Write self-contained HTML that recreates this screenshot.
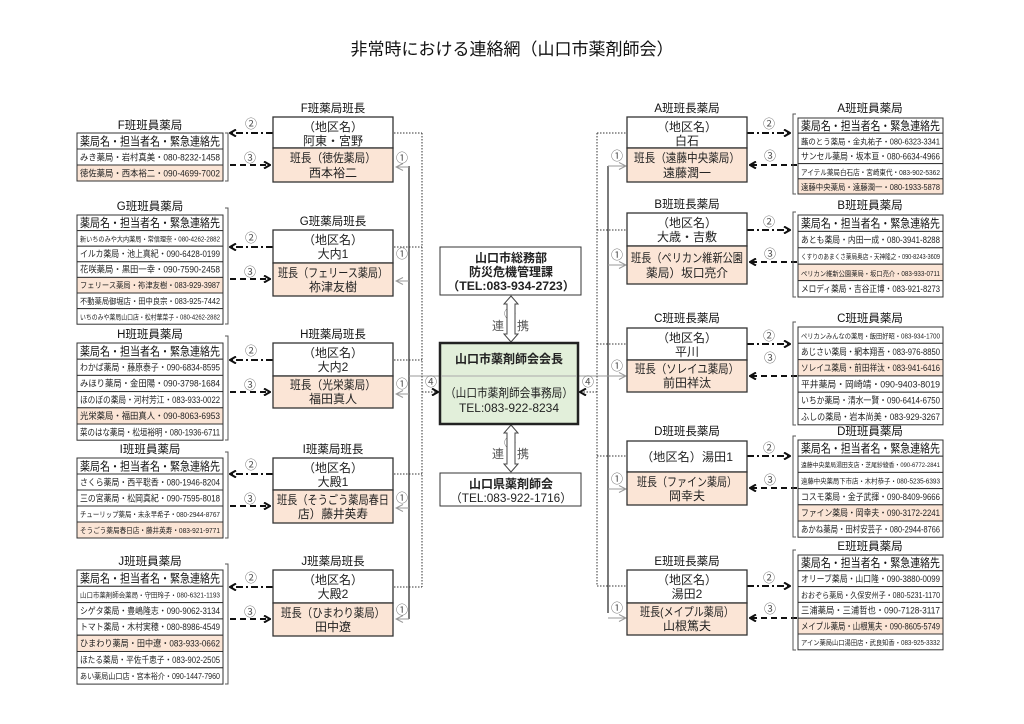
<!DOCTYPE html>
<html><head><meta charset="utf-8"><style>
html,body{margin:0;padding:0;background:#fff;}
svg{display:block;font-family:"Liberation Sans","Noto Sans CJK JP",sans-serif;}
.t{font-size:12px;fill:#222;text-anchor:middle}
.h{font-size:12px;fill:#111;text-anchor:middle}
.r{font-size:9px;fill:#222}
.lb{font-size:11.5px;fill:#111;text-anchor:middle}
.c{font-size:12px;fill:#555;text-anchor:middle}
</style></head><body>
<svg width="1024" height="724" viewBox="0 0 1024 724" xmlns="http://www.w3.org/2000/svg">
<defs>
<marker id="ab" markerWidth="8" markerHeight="8" refX="7" refY="4" orient="auto" markerUnits="userSpaceOnUse"><path d="M1,0.5 L7,4 L1,7.5" fill="none" stroke="#111" stroke-width="2"/></marker>
<marker id="ag" markerWidth="9" markerHeight="8" refX="8" refY="4" orient="auto" markerUnits="userSpaceOnUse"><path d="M1,0.5 L8,4 L1,7.5" fill="none" stroke="#999" stroke-width="1"/></marker>
</defs>
<text x="512" y="55" style="font-size:17px;fill:#111;text-anchor:middle">非常時における連絡網（山口市薬剤師会）</text>

<g fill="none">
<line x1="409" y1="166" x2="409" y2="619" stroke="#333" stroke-width="1.3"/>
<line x1="409" y1="376" x2="440" y2="376" stroke="#999"/>
<line x1="422" y1="133" x2="422" y2="587" stroke="#333" stroke-dasharray="1.5,1.5"/>
<g stroke="#999" marker-end="url(#ag)">
<line x1="409" y1="167" x2="396" y2="167"/><line x1="409" y1="281" x2="396" y2="281"/><line x1="409" y1="394" x2="396" y2="394"/><line x1="409" y1="508" x2="396" y2="508"/><line x1="409" y1="619" x2="396" y2="619"/>
</g>
<g stroke="#333" stroke-dasharray="1.5,1.5">
<line x1="394" y1="133" x2="422" y2="133"/><line x1="394" y1="247" x2="422" y2="247"/><line x1="394" y1="360" x2="422" y2="360"/><line x1="394" y1="474" x2="422" y2="474"/><line x1="394" y1="587" x2="422" y2="587"/>
<line x1="422" y1="392" x2="438" y2="392" marker-end="url(#ab)"/>
</g>
<line x1="608" y1="166" x2="608" y2="613" stroke="#333" stroke-width="1.3"/>
<line x1="578" y1="376" x2="608" y2="376" stroke="#999"/>
<line x1="597" y1="133" x2="597" y2="586" stroke="#333" stroke-dasharray="1.5,1.5"/>
<g stroke="#999" marker-end="url(#ag)">
<line x1="608" y1="166" x2="626" y2="166"/><line x1="608" y1="265" x2="626" y2="265"/><line x1="608" y1="376" x2="626" y2="376"/><line x1="608" y1="489" x2="626" y2="489"/><line x1="608" y1="618" x2="626" y2="618"/>
</g>
<g stroke="#333" stroke-dasharray="1.5,1.5">
<line x1="597" y1="133" x2="627" y2="133"/><line x1="597" y1="230" x2="627" y2="230"/><line x1="597" y1="344" x2="627" y2="344"/><line x1="597" y1="456" x2="627" y2="456"/><line x1="597" y1="586" x2="627" y2="586"/>
<line x1="597" y1="392" x2="580" y2="392" marker-end="url(#ab)"/>
</g>
<g stroke="#111" stroke-width="2">
<g stroke-dasharray="7,3,2,3" marker-end="url(#ab)">
<line x1="273" y1="133" x2="230" y2="133"/><line x1="273" y1="247" x2="230" y2="247"/><line x1="273" y1="360" x2="230" y2="360"/><line x1="273" y1="474" x2="230" y2="474"/><line x1="273" y1="587" x2="230" y2="587"/>
<line x1="747" y1="133" x2="790" y2="133"/><line x1="747" y1="230" x2="790" y2="230"/><line x1="747" y1="344" x2="790" y2="344"/><line x1="747" y1="456" x2="790" y2="456"/><line x1="747" y1="586" x2="790" y2="586"/>
</g>
<g stroke-dasharray="6,4" marker-end="url(#ab)">
<line x1="230" y1="165" x2="270" y2="165"/><line x1="230" y1="279" x2="270" y2="279"/><line x1="230" y1="392" x2="270" y2="392"/><line x1="230" y1="506" x2="270" y2="506"/><line x1="230" y1="619" x2="270" y2="619"/>
<line x1="797" y1="165" x2="750" y2="165"/><line x1="797" y1="262" x2="750" y2="262"/><line x1="797" y1="376" x2="750" y2="376"/><line x1="797" y1="488" x2="750" y2="488"/><line x1="797" y1="618" x2="750" y2="618"/>
</g>
</g>
<g stroke="#555" stroke-width="1">
<path d="M225,133 h3 v48 h-3"/><path d="M225,208 h3 v116 h-3"/><path d="M225,336 h3 v104 h-3"/><path d="M225,452 h3 v86 h-3"/><path d="M225,564 h3 v120 h-3"/>
<path d="M796,114 h-3 v80 h3"/><path d="M796,212 h-3 v85 h3"/><path d="M796,322 h-3 v103 h3"/><path d="M796,436 h-3 v101 h3"/><path d="M796,550 h-3 v100 h3"/>
</g>
</g>
<g>
<text x="251" y="128" class="c">②</text><text x="251" y="242" class="c">②</text><text x="251" y="355" class="c">②</text><text x="251" y="469" class="c">②</text><text x="251" y="582" class="c">②</text>
<text x="250" y="162" class="c">③</text><text x="250" y="276" class="c">③</text><text x="250" y="389" class="c">③</text><text x="250" y="503" class="c">③</text><text x="250" y="616" class="c">③</text>
<text x="402" y="162" class="c">①</text><text x="402" y="258" class="c">①</text><text x="402" y="388" class="c">①</text><text x="402" y="502" class="c">①</text><text x="402" y="614" class="c">①</text>
<text x="769" y="128" class="c">②</text><text x="769" y="226" class="c">②</text><text x="769" y="340" class="c">②</text><text x="769" y="452" class="c">②</text><text x="769" y="582" class="c">②</text>
<text x="770" y="160" class="c">③</text><text x="770" y="258" class="c">③</text><text x="770" y="362" class="c">③</text><text x="770" y="484" class="c">③</text><text x="770" y="613" class="c">③</text>
<text x="617" y="160" class="c">①</text><text x="617" y="259" class="c">①</text><text x="617" y="370" class="c">①</text><text x="617" y="483" class="c">①</text><text x="617" y="612" class="c">①</text>
<text x="431" y="386" class="c">④</text><text x="588" y="386" class="c">④</text>
<text x="510" y="318" class="c">⑤</text><text x="510" y="447" class="c">⑤</text>
</g>
<text x="498" y="330" class="c" style="font-size:12px">連</text><text x="523" y="330" class="c" style="font-size:12px">携</text>
<text x="498" y="458" class="c" style="font-size:12px">連</text><text x="523" y="458" class="c" style="font-size:12px">携</text>
<path d="M511,296 L518,304 L515,304 L515,334 L518,334 L511,342 L504,334 L507,334 L507,304 L504,304 Z" fill="#fff" stroke="#444"/>
<path d="M511,425 L518,433 L515,433 L515,464 L518,464 L511,472 L504,464 L507,464 L507,433 L504,433 Z" fill="#fff" stroke="#444"/>

<rect x="440" y="247" width="141" height="48" fill="#fff" stroke="#333"/>
<text x="511" y="262" class="t" style="font-weight:bold">山口市総務部</text>
<text x="511" y="276" class="t" style="font-weight:bold">防災危機管理課</text>
<text x="511" y="290" class="t" style="font-weight:bold" textLength="128" lengthAdjust="spacingAndGlyphs">（TEL:083-934-2723）</text>
<rect x="440" y="343" width="138" height="81" fill="#e2efda" stroke="#222" stroke-width="2.5"/>
<line x1="441" y1="376" x2="577" y2="376" stroke="#aaa"/>
<text x="509" y="363" class="t" style="font-weight:bold">山口市薬剤師会会長</text>
<text x="509" y="397" class="t" textLength="128" lengthAdjust="spacingAndGlyphs">（山口市薬剤師会事務局）</text>
<text x="509" y="412" class="t">TEL:083-922-8234</text>
<rect x="440" y="473" width="141" height="33" fill="#fff" stroke="#333"/>
<text x="511" y="488" class="t" style="font-weight:bold">山口県薬剤師会</text>
<text x="511" y="502" class="t" textLength="122" lengthAdjust="spacingAndGlyphs">（TEL:083-922-1716）</text>

<g stroke="#333" stroke-width="1.3">
<rect x="273" y="117" width="120" height="31" fill="#fff"/><rect x="273" y="148" width="120" height="34" fill="#fbe5d6"/>
<rect x="273" y="230" width="120" height="33" fill="#fff"/><rect x="273" y="263" width="120" height="33" fill="#fbe5d6"/>
<rect x="273" y="343" width="120" height="33" fill="#fff"/><rect x="273" y="376" width="120" height="32" fill="#fbe5d6"/>
<rect x="273" y="458" width="120" height="32" fill="#fff"/><rect x="273" y="490" width="120" height="33" fill="#fbe5d6"/>
<rect x="273" y="570" width="120" height="33" fill="#fff"/><rect x="273" y="603" width="120" height="33" fill="#fbe5d6"/>
<rect x="627" y="117" width="120" height="31" fill="#fff"/><rect x="627" y="148" width="120" height="34" fill="#fbe5d6"/>
<rect x="627" y="213" width="120" height="33" fill="#fff"/><rect x="627" y="246" width="120" height="38" fill="#fbe5d6"/>
<rect x="627" y="328" width="120" height="32" fill="#fff"/><rect x="627" y="360" width="120" height="32" fill="#fbe5d6"/>
<rect x="627" y="441" width="120" height="31" fill="#fff"/><rect x="627" y="472" width="120" height="33" fill="#fbe5d6"/>
<rect x="627" y="570" width="120" height="33" fill="#fff"/><rect x="627" y="603" width="120" height="32" fill="#fbe5d6"/>
</g>
<g>
<text x="333" y="112" class="lb">F班薬局班長</text>
<text x="333" y="131" class="t" textLength="60" lengthAdjust="spacingAndGlyphs">（地区名）</text><text x="333" y="145" class="t">阿東・宮野</text>
<text x="333" y="162" class="t" textLength="86" lengthAdjust="spacingAndGlyphs">班長（徳佐薬局）</text><text x="333" y="177" class="t">西本裕二</text>
<text x="333" y="225" class="lb">G班薬局班長</text>
<text x="333" y="244" class="t" textLength="60" lengthAdjust="spacingAndGlyphs">（地区名）</text><text x="333" y="258" class="t">大内1</text>
<text x="333" y="277" class="t" textLength="110" lengthAdjust="spacingAndGlyphs">班長（フェリース薬局）</text><text x="333" y="291" class="t">祢津友樹</text>
<text x="333" y="338" class="lb">H班薬局班長</text>
<text x="333" y="357" class="t" textLength="60" lengthAdjust="spacingAndGlyphs">（地区名）</text><text x="333" y="371" class="t">大内2</text>
<text x="333" y="389" class="t" textLength="86" lengthAdjust="spacingAndGlyphs">班長（光栄薬局）</text><text x="333" y="403" class="t">福田真人</text>
<text x="333" y="453" class="lb">I班薬局班長</text>
<text x="333" y="472" class="t" textLength="60" lengthAdjust="spacingAndGlyphs">（地区名）</text><text x="333" y="486" class="t">大殿1</text>
<text x="333" y="504" class="t" textLength="112" lengthAdjust="spacingAndGlyphs">班長（そうごう薬局春日</text><text x="333" y="518" class="t" textLength="70" lengthAdjust="spacingAndGlyphs">店）藤井英寿</text>
<text x="333" y="565" class="lb">J班薬局班長</text>
<text x="333" y="584" class="t" textLength="60" lengthAdjust="spacingAndGlyphs">（地区名）</text><text x="333" y="598" class="t">大殿2</text>
<text x="333" y="617" class="t" textLength="104" lengthAdjust="spacingAndGlyphs">班長（ひまわり薬局）</text><text x="333" y="631" class="t">田中遼</text>

<text x="687" y="112" class="lb">A班班長薬局</text>
<text x="687" y="131" class="t" textLength="60" lengthAdjust="spacingAndGlyphs">（地区名）</text><text x="687" y="145" class="t">白石</text>
<text x="687" y="162" class="t" textLength="106" lengthAdjust="spacingAndGlyphs">班長（遠藤中央薬局）</text><text x="687" y="177" class="t">遠藤潤一</text>
<text x="687" y="208" class="lb">B班班長薬局</text>
<text x="687" y="227" class="t" textLength="60" lengthAdjust="spacingAndGlyphs">（地区名）</text><text x="687" y="241" class="t">大歳・吉敷</text>
<text x="687" y="262" class="t" textLength="112" lengthAdjust="spacingAndGlyphs">班長（ペリカン維新公園</text><text x="687" y="277" class="t" textLength="82" lengthAdjust="spacingAndGlyphs">薬局）坂口亮介</text>
<text x="687" y="322" class="lb">C班班長薬局</text>
<text x="687" y="342" class="t" textLength="60" lengthAdjust="spacingAndGlyphs">（地区名）</text><text x="687" y="356" class="t">平川</text>
<text x="687" y="373" class="t" textLength="104" lengthAdjust="spacingAndGlyphs">班長（ソレイユ薬局）</text><text x="687" y="387" class="t">前田祥汰</text>
<text x="687" y="435" class="lb">D班班長薬局</text>
<text x="687" y="461" class="t" textLength="92" lengthAdjust="spacingAndGlyphs">（地区名）湯田1</text>
<text x="687" y="486" class="t" textLength="100" lengthAdjust="spacingAndGlyphs">班長（ファイン薬局）</text><text x="687" y="500" class="t">岡幸夫</text>
<text x="687" y="565" class="lb">E班班長薬局</text>
<text x="687" y="584" class="t" textLength="60" lengthAdjust="spacingAndGlyphs">（地区名）</text><text x="687" y="598" class="t">湯田2</text>
<text x="687" y="616" class="t" textLength="94" lengthAdjust="spacingAndGlyphs">班長(メイプル薬局）</text><text x="687" y="630" class="t">山根篤夫</text>
</g>

<text x="150" y="129" class="lb">F班班員薬局</text>
<text x="150" y="210" class="lb">G班班員薬局</text>
<text x="150" y="338" class="lb">H班班員薬局</text>
<text x="150" y="453" class="lb">I班班員薬局</text>
<text x="150" y="565" class="lb">J班班員薬局</text>
<text x="870" y="112" class="lb">A班班員薬局</text>
<text x="870" y="209" class="lb">B班班員薬局</text>
<text x="870" y="322" class="lb">C班班員薬局</text>
<text x="870" y="435" class="lb">D班班員薬局</text>
<text x="870" y="550" class="lb">E班班員薬局</text>

<g stroke="#333" stroke-width="1">
<rect x="77" y="133" width="146" height="16" fill="#fff"/><rect x="77" y="149" width="146" height="16" fill="#fff"/><rect x="77" y="165" width="146" height="16" fill="#fbe5d6"/>
<rect x="77" y="215" width="146" height="15.6" fill="#fff"/><rect x="77" y="230.6" width="146" height="15.6" fill="#fff"/><rect x="77" y="246.2" width="146" height="15.6" fill="#fff"/><rect x="77" y="261.8" width="146" height="15.6" fill="#fff"/><rect x="77" y="277.4" width="146" height="15.6" fill="#fbe5d6"/><rect x="77" y="293" width="146" height="15.6" fill="#fff"/><rect x="77" y="308.6" width="146" height="15.6" fill="#fff"/>
<rect x="77" y="343" width="146" height="16.2" fill="#fff"/><rect x="77" y="359.2" width="146" height="16.2" fill="#fff"/><rect x="77" y="375.4" width="146" height="16.2" fill="#fff"/><rect x="77" y="391.6" width="146" height="16.2" fill="#fff"/><rect x="77" y="407.8" width="146" height="16.2" fill="#fbe5d6"/><rect x="77" y="424" width="146" height="16.2" fill="#fff"/>
<rect x="77" y="458" width="146" height="16" fill="#fff"/><rect x="77" y="474" width="146" height="16" fill="#fff"/><rect x="77" y="490" width="146" height="16" fill="#fff"/><rect x="77" y="506" width="146" height="16" fill="#fff"/><rect x="77" y="522" width="146" height="16" fill="#fbe5d6"/>
<rect x="77" y="570" width="146" height="16.3" fill="#fff"/><rect x="77" y="586.3" width="146" height="16.3" fill="#fff"/><rect x="77" y="602.6" width="146" height="16.3" fill="#fff"/><rect x="77" y="618.9" width="146" height="16.3" fill="#fff"/><rect x="77" y="635.2" width="146" height="16.3" fill="#fbe5d6"/><rect x="77" y="651.5" width="146" height="16.3" fill="#fff"/><rect x="77" y="667.8" width="146" height="16.3" fill="#fff"/>
<rect x="798" y="118" width="145" height="15.2" fill="#fff"/><rect x="798" y="133.2" width="145" height="15.2" fill="#fff"/><rect x="798" y="148.4" width="145" height="15.2" fill="#fff"/><rect x="798" y="163.6" width="145" height="15.2" fill="#fff"/><rect x="798" y="178.8" width="145" height="15.2" fill="#fbe5d6"/>
<rect x="798" y="215" width="145" height="16.4" fill="#fff"/><rect x="798" y="231.4" width="145" height="16.4" fill="#fff"/><rect x="798" y="247.8" width="145" height="16.4" fill="#fff"/><rect x="798" y="264.2" width="145" height="16.4" fill="#fbe5d6"/><rect x="798" y="280.6" width="145" height="16.4" fill="#fff"/>
<rect x="798" y="327" width="145" height="16.3" fill="#fff"/><rect x="798" y="343.3" width="145" height="16.3" fill="#fff"/><rect x="798" y="359.6" width="145" height="16.3" fill="#fbe5d6"/><rect x="798" y="375.9" width="145" height="16.3" fill="#fff"/><rect x="798" y="392.2" width="145" height="16.3" fill="#fff"/><rect x="798" y="408.5" width="145" height="16.3" fill="#fff"/>
<rect x="798" y="440" width="145" height="16.2" fill="#fff"/><rect x="798" y="456.2" width="145" height="16.2" fill="#fff"/><rect x="798" y="472.4" width="145" height="16.2" fill="#fff"/><rect x="798" y="488.6" width="145" height="16.2" fill="#fff"/><rect x="798" y="504.8" width="145" height="16.2" fill="#fbe5d6"/><rect x="798" y="521" width="145" height="16.2" fill="#fff"/>
<rect x="798" y="555" width="145" height="15.8" fill="#fff"/><rect x="798" y="570.8" width="145" height="15.8" fill="#fff"/><rect x="798" y="586.6" width="145" height="15.8" fill="#fff"/><rect x="798" y="602.4" width="145" height="15.8" fill="#fff"/><rect x="798" y="618.2" width="145" height="15.8" fill="#fbe5d6"/><rect x="798" y="634" width="145" height="15.8" fill="#fff"/>
</g>

<g>
<text x="80" y="145.5" class="h" style="text-anchor:start" textLength="140" lengthAdjust="spacingAndGlyphs">薬局名・担当者名・緊急連絡先</text>
<text x="80" y="160.5" class="r" textLength="140" lengthAdjust="spacingAndGlyphs">みき薬局・岩村真美・080-8232-1458</text>
<text x="80" y="176.5" class="r" textLength="140" lengthAdjust="spacingAndGlyphs">徳佐薬局・西本裕二・090-4699-7002</text>

<text x="80" y="227" class="h" style="text-anchor:start" textLength="140" lengthAdjust="spacingAndGlyphs">薬局名・担当者名・緊急連絡先</text>
<text x="80" y="241.5" class="r" style="font-size:7px" textLength="140" lengthAdjust="spacingAndGlyphs">新いちのみや大内薬局・常信理奈・080-4262-2882</text>
<text x="80" y="257" class="r" textLength="140" lengthAdjust="spacingAndGlyphs">イルカ薬局・池上真紀・090-6428-0199</text>
<text x="80" y="272.5" class="r" textLength="140" lengthAdjust="spacingAndGlyphs">花咲薬局・黒田一幸・090-7590-2458</text>
<text x="80" y="288" class="r" style="font-size:8px" textLength="140" lengthAdjust="spacingAndGlyphs">フェリース薬局・祢津友樹・083-929-3987</text>
<text x="80" y="304" class="r" style="font-size:8px" textLength="140" lengthAdjust="spacingAndGlyphs">不動薬局御堀店・田中良宗・083-925-7442</text>
<text x="80" y="319.5" class="r" style="font-size:7px" textLength="140" lengthAdjust="spacingAndGlyphs">いちのみや薬局山口店・松村華菜子・080-4262-2882</text>

<text x="80" y="355.5" class="h" style="text-anchor:start" textLength="140" lengthAdjust="spacingAndGlyphs">薬局名・担当者名・緊急連絡先</text>
<text x="80" y="370.5" class="r" textLength="140" lengthAdjust="spacingAndGlyphs">わかば薬局・藤原泰子・090-6834-8595</text>
<text x="80" y="386.5" class="r" textLength="140" lengthAdjust="spacingAndGlyphs">みほり薬局・金田陽・090-3798-1684</text>
<text x="80" y="403" class="r" textLength="140" lengthAdjust="spacingAndGlyphs">ほのぼの薬局・河村芳江・083-933-0022</text>
<text x="80" y="419" class="r" textLength="140" lengthAdjust="spacingAndGlyphs">光栄薬局・福田真人・090-8063-6953</text>
<text x="80" y="435.5" class="r" textLength="140" lengthAdjust="spacingAndGlyphs">菜のはな薬局・松垣裕明・080-1936-6711</text>

<text x="80" y="470.5" class="h" style="text-anchor:start" textLength="140" lengthAdjust="spacingAndGlyphs">薬局名・担当者名・緊急連絡先</text>
<text x="80" y="485.5" class="r" textLength="140" lengthAdjust="spacingAndGlyphs">さくら薬局・西平聡香・080-1946-8204</text>
<text x="80" y="501.5" class="r" textLength="140" lengthAdjust="spacingAndGlyphs">三の宮薬局・松岡真紀・090-7595-8018</text>
<text x="80" y="517" class="r" style="font-size:7.5px" textLength="140" lengthAdjust="spacingAndGlyphs">チューリップ薬局・末永早希子・080-2944-8767</text>
<text x="80" y="533" class="r" style="font-size:7.5px" textLength="140" lengthAdjust="spacingAndGlyphs">そうごう薬局春日店・藤井英寿・083-921-9771</text>

<text x="80" y="582.5" class="h" style="text-anchor:start" textLength="140" lengthAdjust="spacingAndGlyphs">薬局名・担当者名・緊急連絡先</text>
<text x="80" y="597.5" class="r" style="font-size:7px" textLength="140" lengthAdjust="spacingAndGlyphs">山口市薬剤師会薬局・守田玲子・080-6321-1193</text>
<text x="80" y="614" class="r" textLength="140" lengthAdjust="spacingAndGlyphs">シゲタ薬局・豊嶋隆志・090-9062-3134</text>
<text x="80" y="630" class="r" textLength="140" lengthAdjust="spacingAndGlyphs">トマト薬局・木村実穂・080-8986-4549</text>
<text x="80" y="646.5" class="r" textLength="140" lengthAdjust="spacingAndGlyphs">ひまわり薬局・田中遼・083-933-0662</text>
<text x="80" y="663" class="r" textLength="140" lengthAdjust="spacingAndGlyphs">ほたる薬局・平佐千恵子・083-902-2505</text>
<text x="80" y="679" class="r" style="font-size:8px" textLength="140" lengthAdjust="spacingAndGlyphs">あい薬局山口店・宮本裕介・090-1447-7960</text>

<text x="801" y="130" class="h" style="text-anchor:start" textLength="139" lengthAdjust="spacingAndGlyphs">薬局名・担当者名・緊急連絡先</text>
<text x="801" y="144.5" class="r" style="font-size:8px" textLength="139" lengthAdjust="spacingAndGlyphs">蕗のとう薬局・金丸祐子・080-6323-3341</text>
<text x="801" y="159.5" class="r" textLength="139" lengthAdjust="spacingAndGlyphs">サンセル薬局・坂本亘・080-6634-4966</text>
<text x="801" y="175" class="r" style="font-size:7.5px" textLength="139" lengthAdjust="spacingAndGlyphs">アイテル薬局白石店・宮崎東代・083-902-5362</text>
<text x="801" y="190" class="r" style="font-size:8px" textLength="139" lengthAdjust="spacingAndGlyphs">遠藤中央薬局・遠藤潤一・080-1933-5878</text>

<text x="801" y="227.5" class="h" style="text-anchor:start" textLength="139" lengthAdjust="spacingAndGlyphs">薬局名・担当者名・緊急連絡先</text>
<text x="801" y="243" class="r" textLength="139" lengthAdjust="spacingAndGlyphs">あとも薬局・内田一成・080-3941-8288</text>
<text x="801" y="259" class="r" style="font-size:7px" textLength="139" lengthAdjust="spacingAndGlyphs">くすりのあまくさ薬局奥店・天神隆之・090-8243-3609</text>
<text x="801" y="276" class="r" style="font-size:7px" textLength="139" lengthAdjust="spacingAndGlyphs">ペリカン維新公園薬局・坂口亮介・083-933-0711</text>
<text x="801" y="292" class="r" textLength="139" lengthAdjust="spacingAndGlyphs">メロディ薬局・吉谷正博・083-921-8273</text>

<text x="801" y="338.5" class="r" style="font-size:7px" textLength="139" lengthAdjust="spacingAndGlyphs">ペリカンみんなの薬局・飯田好昭・083-934-1700</text>
<text x="801" y="355" class="r" textLength="139" lengthAdjust="spacingAndGlyphs">あじさい薬局・網本翔吾・083-976-8850</text>
<text x="801" y="371" class="r" textLength="139" lengthAdjust="spacingAndGlyphs">ソレイユ薬局・前田祥汰・083-941-6416</text>
<text x="801" y="387.5" class="r" textLength="139" lengthAdjust="spacingAndGlyphs">平井薬局・岡崎靖・090-9403-8019</text>
<text x="801" y="403.5" class="r" textLength="139" lengthAdjust="spacingAndGlyphs">いちか薬局・清水一賢・090-6414-6750</text>
<text x="801" y="420" class="r" textLength="139" lengthAdjust="spacingAndGlyphs">ふしの薬局・岩本尚美・083-929-3267</text>

<text x="801" y="452.5" class="h" style="text-anchor:start" textLength="139" lengthAdjust="spacingAndGlyphs">薬局名・担当者名・緊急連絡先</text>
<text x="801" y="467" class="r" style="font-size:6.5px" textLength="139" lengthAdjust="spacingAndGlyphs">遠藤中央薬局湯田支店・芝尾紗綾香・090-6772-2841</text>
<text x="801" y="483.5" class="r" style="font-size:7px" textLength="139" lengthAdjust="spacingAndGlyphs">遠藤中央薬局下市店・木村恭子・080-5235-6393</text>
<text x="801" y="500" class="r" textLength="139" lengthAdjust="spacingAndGlyphs">コスモ薬局・金子武揮・090-8409-9666</text>
<text x="801" y="516" class="r" textLength="139" lengthAdjust="spacingAndGlyphs">ファイン薬局・岡幸夫・090-3172-2241</text>
<text x="801" y="532.5" class="r" textLength="139" lengthAdjust="spacingAndGlyphs">あかね薬局・田村安芸子・080-2944-8766</text>

<text x="801" y="567" class="h" style="text-anchor:start" textLength="139" lengthAdjust="spacingAndGlyphs">薬局名・担当者名・緊急連絡先</text>
<text x="801" y="582" class="r" textLength="139" lengthAdjust="spacingAndGlyphs">オリーブ薬局・山口隆・090-3880-0099</text>
<text x="801" y="598" class="r" style="font-size:8px" textLength="139" lengthAdjust="spacingAndGlyphs">おおぞら薬局・久保安州子・080-5231-1170</text>
<text x="801" y="613.5" class="r" textLength="139" lengthAdjust="spacingAndGlyphs">三浦薬局・三浦哲也・090-7128-3117</text>
<text x="801" y="629.5" class="r" textLength="139" lengthAdjust="spacingAndGlyphs">メイプル薬局・山根篤夫・090-8605-5749</text>
<text x="801" y="645" class="r" style="font-size:7px" textLength="139" lengthAdjust="spacingAndGlyphs">アイン薬局山口湯田店・武良知香・083-925-3332</text>
</g>
</svg>
</body></html>
